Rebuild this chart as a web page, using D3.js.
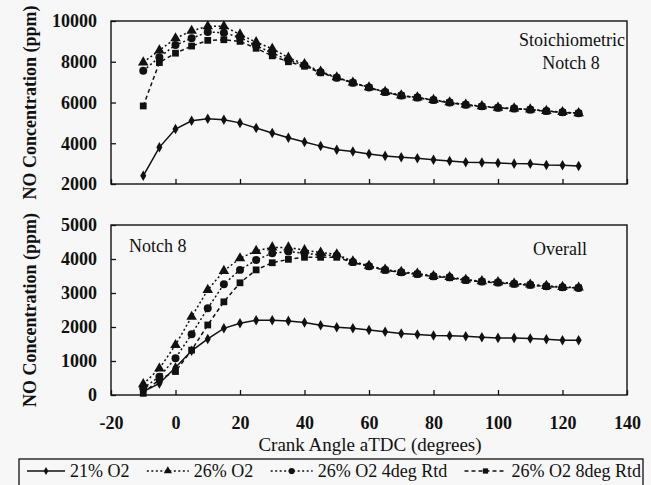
<!DOCTYPE html>
<html>
<head>
<meta charset="utf-8">
<script src="https://cdn.jsdelivr.net/npm/d3@7"></script>
<style>
  body { margin: 0; background: #f7f7f7; }
  svg { display: block; }
  svg text { font-family: "Liberation Serif", "Times New Roman", Times, serif; }
</style>
</head>
<body>
<div id="chart"></div>
<script>
// crank angle (deg aTDC)
const crank = [-10,-5,0,5,10,15,20,25,30,35,40,45,50,55,60,65,70,75,80,85,90,95,100,105,110,115,120,125]

// Stoichiometric, Notch 8
const stoich21 = [2400,3800,4700,5100,5200,5150,5000,4750,4500,4270,4060,3860,3680,3590,3470,3380,3310,3260,3190,3130,3070,3060,3030,3000,2990,2930,2920,2880]
const stoich26 = [7970,8560,9150,9520,9740,9740,9340,8960,8640,8200,7880,7520,7240,6980,6750,6520,6350,6250,6130,6010,5900,5820,5750,5710,5660,5590,5530,5480]
const stoich26r4 = [7560,8220,8820,9150,9460,9420,9200,8790,8430,8080,7830,7480,7220,6970,6740,6510,6340,6240,6120,6000,5890,5810,5740,5700,5650,5580,5520,5470]
const stoich26r8 = [5830,7960,8420,8770,9050,9080,9000,8660,8290,8000,7780,7460,7210,6960,6730,6500,6330,6230,6110,5990,5880,5800,5730,5690,5640,5570,5510,5470]

// Overall, Notch 8
const overall21 = [100,340,810,1300,1650,1960,2110,2200,2200,2180,2130,2050,1990,1960,1910,1860,1810,1780,1750,1740,1730,1700,1680,1680,1660,1640,1610,1610]
const overall26 = [320,780,1470,2300,3090,3650,4020,4240,4340,4340,4260,4190,4140,3930,3800,3690,3620,3570,3500,3470,3390,3350,3320,3280,3250,3210,3180,3160]
const overall26r4 = [200,540,1080,1790,2550,3260,3680,3970,4170,4220,4170,4120,4100,3910,3790,3680,3610,3560,3490,3460,3380,3340,3310,3270,3240,3200,3170,3150]
const overall26r8 = [50,460,690,1320,2060,2740,3300,3680,3890,3990,4050,4050,4050,3900,3780,3670,3600,3550,3480,3450,3370,3330,3300,3260,3230,3190,3160,3150]

const seriesNames = ["21% O2", "26% O2", "26% O2 4deg Rtd", "26% O2 8deg Rtd"]
const xTicks = [-20,0,20,40,60,80,100,120,140]
const topTicks = [2000,4000,6000,8000,10000]
const botTicks = [0,1000,2000,3000,4000,5000]

const width = 651, height = 485

const styles = [
  {dash: null, sym: d3.symbolDiamond, size: 32},
  {dash: "2,2.5", sym: d3.symbolTriangle, size: 48},
  {dash: "2,2.5", sym: d3.symbolCircle, size: 50},
  {dash: "4,3", sym: d3.symbolSquare, size: 46}
]

let svg = d3.select("#chart").append("svg").attr("width", width).attr("height", height)

let x = d3.scaleLinear().domain([-20, 140]).range([111, 627])

function drawPanel(yDomain, yRange, yTicks, data, showXLabels, notes) {
  let y = d3.scaleLinear().domain(yDomain).range(yRange)
  let g = svg.append("g")

  // frame
  g.append("rect").attr("x", x.range()[0]).attr("y", yRange[1])
    .attr("width", x.range()[1] - x.range()[0]).attr("height", yRange[0] - yRange[1])
    .attr("fill", "none").attr("stroke", "#111").attr("stroke-width", 1.4)

  // inward ticks
  let xa = g.append("g").attr("transform", "translate(0," + yRange[0] + ")")
    .call(d3.axisBottom(x).tickValues(xTicks).tickSizeInner(-5).tickSizeOuter(0).tickPadding(21).tickFormat(d => String(d)))
  xa.select(".domain").remove()
  xa.selectAll("line").attr("stroke", "#111").attr("stroke-width", 1.3)
  xa.selectAll("text").attr("font-size", 18).attr("font-weight", "bold").attr("fill", "#111")
  if (!showXLabels) xa.selectAll("text").remove()

  let ya = g.append("g").attr("transform", "translate(" + x.range()[0] + ",0)")
    .call(d3.axisLeft(y).tickValues(yTicks).tickSizeInner(-5).tickSizeOuter(0).tickPadding(14).tickFormat(d => String(d)))
  ya.select(".domain").remove()
  ya.selectAll("line").attr("stroke", "#111").attr("stroke-width", 1.3)
  ya.selectAll("text").attr("font-size", 18).attr("font-weight", "bold").attr("fill", "#111")

  // series
  data.forEach(function (vals, i) {
    let pts = crank.map((c, j) => [c, vals[j]])
    let line = d3.line().x(d => x(d[0])).y(d => y(d[1]))
    g.append("path").attr("d", line(pts)).attr("fill", "none").attr("stroke", "#111")
      .attr("stroke-width", 1.5).attr("stroke-dasharray", styles[i].dash)
    g.append("g").selectAll("path").data(pts).join("path")
      .attr("d", d3.symbol().type(styles[i].sym).size(styles[i].size))
      .attr("transform", d => "translate(" + x(d[0]) + "," + y(d[1]) + ")")
      .attr("fill", "#111")
  })

  // y title
  g.append("text").attr("transform", "translate(36," + (yRange[0] + yRange[1]) / 2 + ") rotate(-90)")
    .attr("text-anchor", "middle").attr("font-size", 18).attr("font-weight", "bold").attr("fill", "#111")
    .text("NO Concentration (ppm)")

  notes.forEach(function (n) {
    g.append("text").attr("x", n.x).attr("y", n.y).attr("text-anchor", n.anchor)
      .attr("font-size", 18).attr("fill", "#111").text(n.text)
  })
}

drawPanel([2000, 10000], [184, 21], topTicks, [stoich21, stoich26, stoich26r4, stoich26r8], false,
  [{x: 572, y: 46, anchor: "middle", text: "Stoichiometric"}, {x: 571, y: 69, anchor: "middle", text: "Notch 8"}])

drawPanel([0, 5000], [395, 225], botTicks, [overall21, overall26, overall26r4, overall26r8], true,
  [{x: 129, y: 252, anchor: "start", text: "Notch 8"}, {x: 587, y: 255, anchor: "end", text: "Overall"}])

// x title
svg.append("text").attr("x", 370).attr("y", 451).attr("text-anchor", "middle")
  .attr("font-size", 19).attr("fill", "#111").text("Crank Angle aTDC (degrees)")

// legend, items spread to fill the box
let lg = svg.append("g")
lg.append("rect").attr("x", 19).attr("y", 459).attr("width", 624).attr("height", 27)
  .attr("fill", "none").attr("stroke", "#111").attr("stroke-width", 1.3)
const sampleW = [38, 42, 42, 42]
let items = seriesNames.map(function (name, i) {
  let t = lg.append("text").attr("y", 477).attr("font-size", 18).attr("fill", "#111").text(name)
  return {t: t, w: t.node().getComputedTextLength()}
})
let used = d3.sum(items, d => d.w) + d3.sum(sampleW) + 4 * 5
let gap = (641 - 27 - used) / 3
let cx = 27
items.forEach(function (it, i) {
  let ly = 471
  lg.append("line").attr("x1", cx).attr("x2", cx + sampleW[i]).attr("y1", ly).attr("y2", ly)
    .attr("stroke", "#111").attr("stroke-width", 1.4).attr("stroke-dasharray", styles[i].dash)
  lg.append("path").attr("d", d3.symbol().type(styles[i].sym).size(styles[i].size * 0.6))
    .attr("transform", "translate(" + (cx + sampleW[i] / 2) + "," + ly + ")").attr("fill", "#111")
  cx += sampleW[i] + 5
  it.t.attr("x", cx)
  cx += it.w + gap
})
</script>
</body>
</html>
